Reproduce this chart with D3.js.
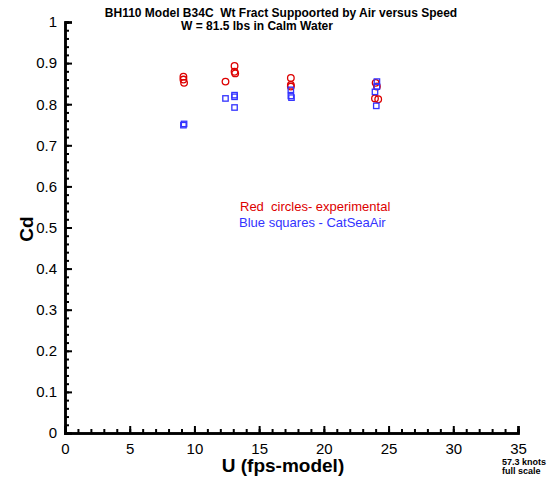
<!DOCTYPE html>
<html>
<head>
<meta charset="utf-8">
<script src="https://cdn.jsdelivr.net/npm/d3@7"></script>
<style>
body { margin: 0; background: #fff; }
text { font-family: "Liberation Sans", Arial, sans-serif; white-space: pre; }
</style>
</head>
<body>
<div id="chart"></div>
<script>
// experimental (red circles)
var expU = [9.15, 9.15, 9.2, 12.4, 13.1, 13.1, 13.15, 17.45, 17.45, 17.45, 24.0, 24.1, 23.95, 24.2];
var expCd = [0.867, 0.860, 0.852, 0.855, 0.893, 0.879, 0.875, 0.864, 0.847, 0.843, 0.852, 0.843, 0.814, 0.812];
// CatSeaAir (blue squares)
var csaU = [9.15, 9.2, 12.4, 13.1, 13.1, 13.1, 17.45, 17.45, 17.5, 24.1, 24.1, 23.95, 24.05];
var csaCd = [0.749, 0.752, 0.814, 0.822, 0.818, 0.792, 0.835, 0.820, 0.816, 0.855, 0.843, 0.830, 0.796];

var xTicks = [0, 5, 10, 15, 20, 25, 30, 35];
var yTicks = [0, 0.1, 0.2, 0.3, 0.4, 0.5, 0.6, 0.7, 0.8, 0.9, 1];

var svgWidth = 560, svgHeight = 479;
var margin = {top: 22, left: 65};
var width = 453, height = 411;

var svg = d3.select("#chart").append("svg")
    .attr("width", svgWidth)
    .attr("height", svgHeight);

var g = svg.append("g")
    .attr("transform", `translate(${margin.left}, ${margin.top})`);

var x = d3.scaleLinear().domain([0, 35]).range([0, width]);
var y = d3.scaleLinear().domain([0, 1]).range([height, 0]);

// minor ticks
var xMinor = d3.range(0, 35.01, 1);
var yMinor = d3.range(0, 1.001, 0.02);

var xAxis = g.append("g").attr("transform", `translate(0, ${height})`);
xAxis.call(d3.axisBottom(x).tickValues(xMinor).tickSize(-4).tickFormat(""));
xAxis.append("g").call(d3.axisBottom(x).tickValues(xTicks).tickSize(-7).tickPadding(10)
    .tickFormat(d3.format("d")));

var yAxis = g.append("g");
yAxis.call(d3.axisLeft(y).tickValues(yMinor).tickSize(-4).tickFormat(""));
yAxis.append("g").call(d3.axisLeft(y).tickValues(yTicks).tickSize(-7).tickPadding(8)
    .tickFormat(d => d === 0 || d === 1 ? d : d3.format(".1f")(d)));

g.selectAll(".domain").attr("stroke", "#000").attr("stroke-width", 2.5);
g.selectAll(".tick line").attr("stroke", "#000").attr("stroke-width", 2);
g.selectAll(".tick text").style("font-size", "15px").attr("fill", "#000")
    .style("font-family", "Liberation Sans, Arial, sans-serif");

// data marks
g.selectAll("circle.exp")
    .data(expU)
    .enter()
    .append("circle")
    .attr("class", "exp")
    .attr("cx", (d, i) => x(d))
    .attr("cy", (d, i) => y(expCd[i]))
    .attr("r", 3.3)
    .attr("fill", "none")
    .attr("stroke", "#dd0000")
    .attr("stroke-width", 1.3);

g.selectAll("rect.csa")
    .data(csaU)
    .enter()
    .append("rect")
    .attr("class", "csa")
    .attr("x", (d, i) => x(d) - 2.7)
    .attr("y", (d, i) => y(csaCd[i]) - 2.7)
    .attr("width", 5.4)
    .attr("height", 5.4)
    .attr("fill", "none")
    .attr("stroke", "#3333ff")
    .attr("stroke-width", 1.3);

// titles
svg.append("text")
    .attr("x", 281).attr("y", 17)
    .attr("text-anchor", "middle")
    .style("font-size", "12px").style("font-weight", "bold")
    .text("BH110 Model B34C  Wt Fract Suppoorted by Air versus Speed");

svg.append("text")
    .attr("x", 257).attr("y", 30)
    .attr("text-anchor", "middle")
    .style("font-size", "12px").style("font-weight", "bold")
    .text("W = 81.5 lbs in Calm Water");

// legend text
svg.append("text")
    .attr("x", 240).attr("y", 211)
    .style("font-size", "13px").attr("fill", "#dd0000")
    .text("Red  circles- experimental");

svg.append("text")
    .attr("x", 239).attr("y", 227)
    .style("font-size", "13px").attr("fill", "#3333ff")
    .text("Blue squares - CatSeaAir");

// axis titles
svg.append("text")
    .attr("x", 283).attr("y", 472)
    .attr("text-anchor", "middle")
    .style("font-size", "19px").style("font-weight", "bold")
    .text("U (fps-model)");

svg.append("text")
    .attr("transform", "translate(33, 229) rotate(-90)")
    .attr("text-anchor", "middle")
    .style("font-size", "19px").style("font-weight", "bold")
    .text("Cd");

svg.append("text")
    .attr("x", 502).attr("y", 465)
    .style("font-size", "9px").style("font-weight", "bold")
    .text("57.3 knots");

svg.append("text")
    .attr("x", 502).attr("y", 474)
    .style("font-size", "9px").style("font-weight", "bold")
    .text("full scale");
</script>
</body>
</html>
